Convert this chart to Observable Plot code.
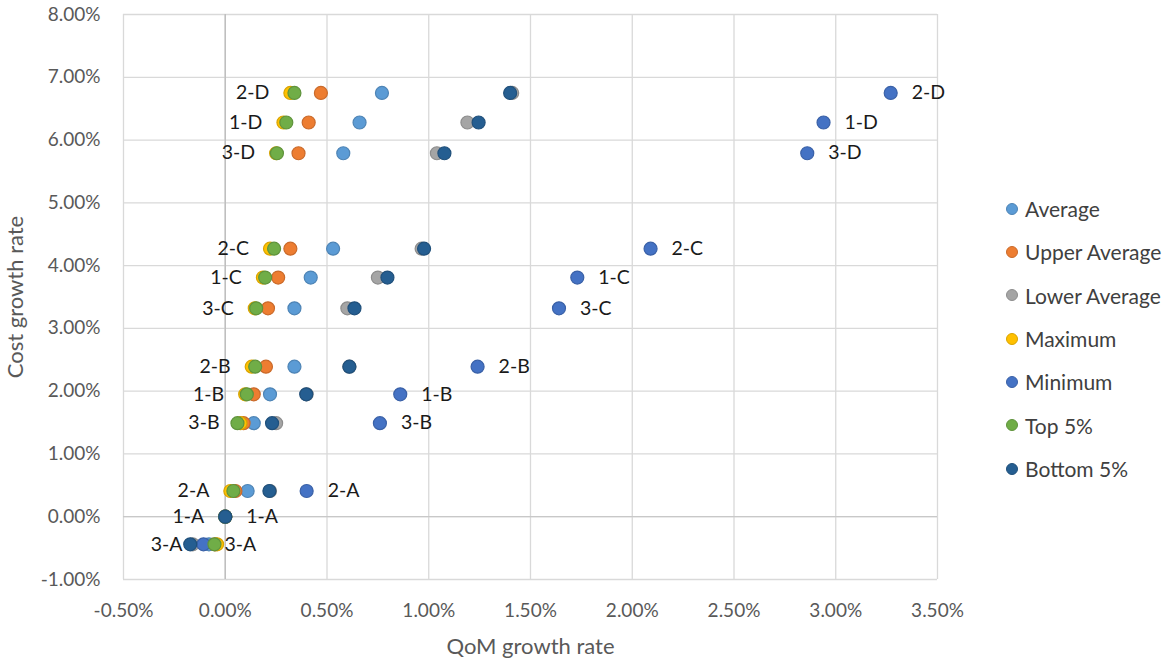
<!DOCTYPE html>
<html>
<head>
<meta charset="utf-8">
<script src="https://cdn.jsdelivr.net/npm/d3@7"></script>
<script src="https://cdn.jsdelivr.net/npm/@observablehq/plot@0.6"></script>
<style>
  body { margin: 0; background: #fff; font-family: Lato, "Open Sans", sans-serif; }
  #wrap { position: relative; width: 1170px; height: 665px; overflow: hidden; }
  #legend { position: absolute; left: 1006px; top: 187px; }
  .item { display: flex; align-items: center; height: 43.33px; font-size: 21px; color: #404040; white-space: nowrap; }
  .sw { width: 12px; height: 12px; border-radius: 50%; margin-right: 7px; box-sizing: border-box; border: 1px solid; }
</style>
</head>
<body>
<div id="wrap"><div id="chart"></div><div id="legend"></div></div>
<script>
// Scenario labels (row order)
const scenarios   = ["1-A","2-A","3-A","1-B","2-B","3-B","1-C","2-C","3-C","1-D","2-D","3-D"];
// Cost growth rate (%), y
const costGrowth  = [0.00, 0.41, -0.44, 1.95, 2.39, 1.49, 3.81, 4.27, 3.32, 6.28, 6.75, 5.79];
// QoM growth rate (%), x, per series
const average      = [0.00, 0.11, -0.08, 0.22, 0.34, 0.14, 0.42, 0.53, 0.34, 0.66, 0.77, 0.58];
const upperAverage = [0.00, 0.05, -0.05, 0.14, 0.20, 0.09, 0.26, 0.32, 0.21, 0.41, 0.47, 0.36];
const lowerAverage = [0.00, 0.22, -0.16, 0.40, 0.61, 0.25, 0.75, 0.965, 0.60, 1.19, 1.41, 1.04];
const maximum      = [0.00, 0.025, -0.04, 0.098, 0.13, 0.075, 0.185, 0.22, 0.145, 0.286, 0.32, 0.25];
const minimum      = [0.00, 0.40, -0.107, 0.86, 1.24, 0.76, 1.73, 2.09, 1.64, 2.94, 3.27, 2.86];
const top5         = [0.00, 0.04, -0.053, 0.106, 0.147, 0.06, 0.196, 0.24, 0.152, 0.30, 0.34, 0.254];
const bottom5      = [0.00, 0.217, -0.172, 0.398, 0.61, 0.23, 0.797, 0.977, 0.635, 1.245, 1.40, 1.077];

const seriesNames  = ["Average","Upper Average","Lower Average","Maximum","Minimum","Top 5%","Bottom 5%"];
const seriesValues = [average, upperAverage, lowerAverage, maximum, minimum, top5, bottom5];
const seriesColors = ["#5B9BD5","#ED7D31","#A5A5A5","#FFC000","#4472C4","#70AD47","#255E91"];

const xTicks = [-0.5, 0, 0.5, 1, 1.5, 2, 2.5, 3, 3.5];
const yTicks = [-1, 0, 1, 2, 3, 4, 5, 6, 7, 8];
const xTitle = "QoM growth rate";
const yTitle = "Cost growth rate";

const fmt = d => d.toFixed(2) + "%";
const darker = c => d3.color(c).darker(0.45).formatHex();

const dotMarks = seriesNames.map((name, i) => {
  const data = scenarios.map((s, j) => ({scenario: s, x: seriesValues[i][j], y: costGrowth[j]}));
  return Plot.dot(data, {x: "x", y: "y", r: 6.5, fill: seriesColors[i], stroke: darker(seriesColors[i]), strokeWidth: 1.2});
});

const labelRows = scenarios.map((s, j) => ({
  scenario: s,
  left: Math.min(maximum[j], minimum[j]),
  right: minimum[j],
  y: costGrowth[j]
}));

const chart = Plot.plot({
  width: 1170,
  height: 665,
  marginLeft: 123,
  marginRight: 233,
  marginTop: 14,
  marginBottom: 86,
  style: {fontFamily: "Lato, 'Open Sans', sans-serif", fontSize: "19px", background: "#fff"},
  x: {domain: [-0.5, 3.5]},
  y: {domain: [-1, 8]},
  marks: [
    Plot.gridX(xTicks, {stroke: "#d9d9d9", strokeOpacity: 1, strokeWidth: 1.3}),
    Plot.gridY(yTicks, {stroke: "#d9d9d9", strokeOpacity: 1, strokeWidth: 1.3}),
    Plot.ruleX([0], {stroke: "#bfbfbf", strokeWidth: 1.5}),
    Plot.ruleY([0], {stroke: "#c8c8c8", strokeWidth: 1.3}),
    Plot.axisX(xTicks, {tickSize: 0, tickPadding: 24, tickFormat: fmt, fontSize: 19, fill: "#595959", label: null}),
    Plot.axisY(yTicks, {tickSize: 0, tickPadding: 23, tickFormat: fmt, fontSize: 19, fill: "#595959", label: null}),
    Plot.text([xTitle], {frameAnchor: "bottom", lineAnchor: "bottom", dy: 74, fontSize: 22, fill: "#595959"}),
    Plot.text([yTitle], {frameAnchor: "left", textAnchor: "middle", rotate: -90, dx: -108, fontSize: 22, fill: "#595959"}),
    ...dotMarks,
    Plot.text(labelRows, {x: "left", y: "y", text: "scenario", dx: -21, textAnchor: "end", fontSize: 19.5, fill: "#1a1a1a"}),
    Plot.text(labelRows, {x: "right", y: "y", text: "scenario", dx: 21, textAnchor: "start", fontSize: 19.5, fill: "#1a1a1a"})
  ]
});
document.getElementById("chart").appendChild(chart);

const legend = document.getElementById("legend");
seriesNames.forEach((name, i) => {
  const item = document.createElement("div");
  item.className = "item";
  const sw = document.createElement("span");
  sw.className = "sw";
  sw.style.background = seriesColors[i];
  sw.style.borderColor = darker(seriesColors[i]);
  const t = document.createElement("span");
  t.textContent = name;
  item.appendChild(sw);
  item.appendChild(t);
  legend.appendChild(item);
});
</script>
</body>
</html>
